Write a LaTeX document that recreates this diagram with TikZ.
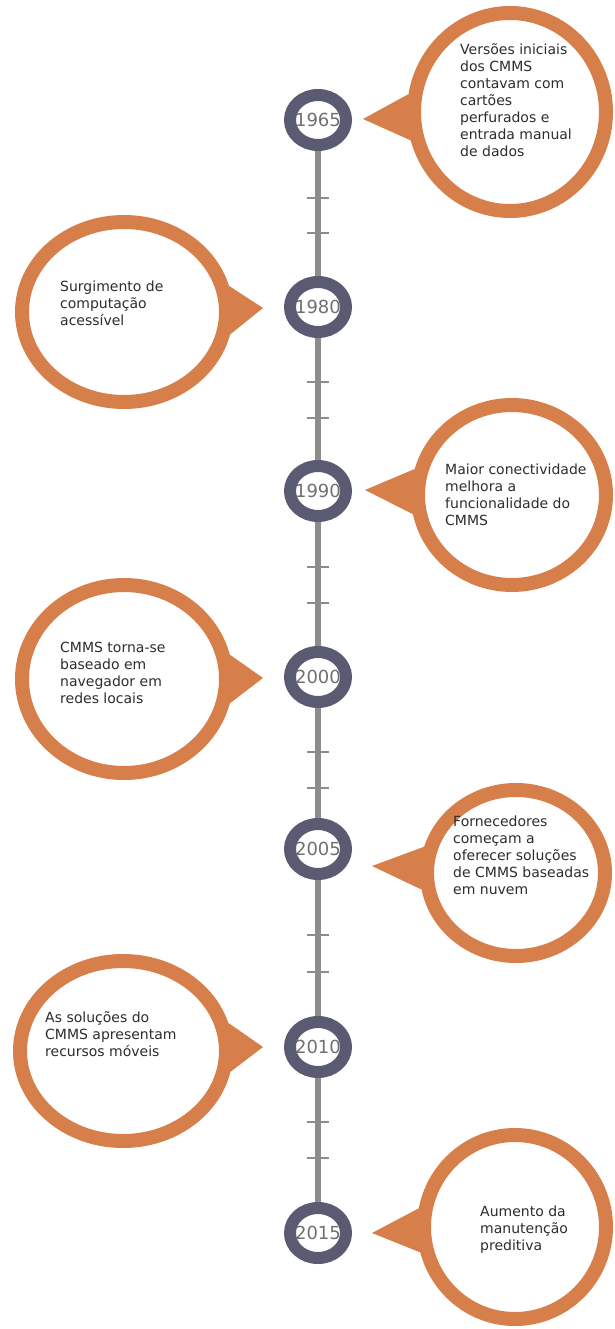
\documentclass[tikz,border=0pt]{standalone}
\usepackage{fontspec}
\setmainfont{DejaVu Sans}
\usetikzlibrary{shapes.geometric,calc}
\definecolor{bubbleorange}{RGB}{215,127,75}
\definecolor{ringslate}{RGB}{90,90,114}
\definecolor{linegray}{RGB}{140,140,140}
\definecolor{yeargray}{RGB}{112,112,112}
\definecolor{textdark}{RGB}{45,45,45}
\pgfdeclarelayer{background}
\pgfsetlayers{background,main}
\tikzset{
  yearring/.style={shape=ellipse, draw=ringslate, fill=white, line width=12pt,
    minimum width=56pt, minimum height=50pt, inner sep=0pt},
  yeartext/.style={text=yeargray, font=\fontsize{18}{18}\selectfont, inner sep=0pt},
  bubble/.style={shape=ellipse, draw=bubbleorange, fill=white, line width=14pt, inner sep=0pt},
  bubbletext/.style={text=textdark, font=\fontsize{14}{17}\selectfont, align=left,
    anchor=north west, inner sep=0pt},
  spine/.style={draw=linegray, line width=6pt},
  tickmark/.style={draw=linegray, line width=2.5pt},
  pointer/.style={fill=bubbleorange}
}
\begin{document}
\begin{tikzpicture}[x=1pt,y=-1pt]
\useasboundingbox (0,0) rectangle (614,1329);
% year rings
\node[yearring] (y1965) at (318,120) {};
\node[yearring] (y1980) at (318,307) {};
\node[yearring] (y1990) at (318,491) {};
\node[yearring] (y2000) at (318,677) {};
\node[yearring] (y2005) at (318,849) {};
\node[yearring] (y2010) at (318,1047) {};
\node[yearring] (y2015) at (318,1233) {};
\node[yeartext] (t1965) at (y1965) {1965};
\node[yeartext] (t1980) at (y1980) {1980};
\node[yeartext] (t1990) at (y1990) {1990};
\node[yeartext] (t2000) at (y2000) {2000};
\node[yeartext] (t2005) at (y2005) {2005};
\node[yeartext] (t2010) at (y2010) {2010};
\node[yeartext] (t2015) at (y2015) {2015};
% bubbles
\node[bubble, minimum width=192pt, minimum height=198pt] (b1) at (510,112) {};
\node[bubble, minimum width=204pt, minimum height=180pt] (b2) at (124,312) {};
\node[bubble, minimum width=188pt, minimum height=180pt] (b3) at (512,495) {};
\node[bubble, minimum width=204pt, minimum height=188pt] (b4) at (124,679) {};
\node[bubble, minimum width=178pt, minimum height=166pt] (b5) at (516,873) {};
\node[bubble, minimum width=206pt, minimum height=180pt] (b6) at (123,1051) {};
\node[bubble, minimum width=182pt, minimum height=184pt] (b7) at (515,1227) {};
% pointer tips
\coordinate (p1) at (363,119);
\coordinate (p2) at (263,308);
\coordinate (p3) at (365,490);
\coordinate (p4) at (263,678);
\coordinate (p5) at (372,866);
\coordinate (p6) at (263,1047);
\coordinate (p7) at (372,1233);
\begin{pgfonlayer}{background}
  \draw[spine] (y1965.center) -- (y1980.center);
  \draw[spine] (y1980.center) -- (y1990.center);
  \draw[spine] (y1990.center) -- (y2000.center);
  \draw[spine] (y2000.center) -- (y2005.center);
  \draw[spine] (y2005.center) -- (y2010.center);
  \draw[spine] (y2010.center) -- (y2015.center);
  \foreach \n/\a/\b in {y1965/78/113, y1980/75/111, y1990/76/112, y2000/75/111, y2005/86/123, y2010/75/111} {
    \draw[tickmark] ($(\n.center)+(-11,\a)$) -- ($(\n.center)+(11,\a)$);
    \draw[tickmark] ($(\n.center)+(-11,\b)$) -- ($(\n.center)+(11,\b)$);
  }
  \fill[pointer] (p1) -- (b1.170) -- (b1.196) -- cycle;
  \fill[pointer] (p2) -- (b2.14) -- (b2.348) -- cycle;
  \fill[pointer] (p3) -- (b3.165) -- (b3.191) -- cycle;
  \fill[pointer] (p4) -- (b4.13) -- (b4.347) -- cycle;
  \fill[pointer] (p5) -- (b5.164) -- (b5.190) -- cycle;
  \fill[pointer] (p6) -- (b6.15) -- (b6.349) -- cycle;
  \fill[pointer] (p7) -- (b7.169) -- (b7.195) -- cycle;
\end{pgfonlayer}
% texts
\node[bubbletext] (x1) at (460,43) {Versões iniciais\\dos CMMS\\contavam com\\cartões\\perfurados e\\entrada manual\\de dados};
\node[bubbletext] (x2) at (60,281) {Surgimento de\\computação\\acessível};
\node[bubbletext] (x3) at (445,464) {Maior conectividade\\melhora a\\funcionalidade do\\CMMS};
\node[bubbletext] (x4) at (60,642) {CMMS torna-se\\baseado em\\navegador em\\redes locais};
\node[bubbletext] (x5) at (453,816) {Fornecedores\\começam a\\oferecer soluções\\de CMMS baseadas\\em nuvem};
\node[bubbletext] (x6) at (45,1011) {As soluções do\\CMMS apresentam\\recursos móveis};
\node[bubbletext] (x7) at (480,1206) {Aumento da\\manutenção\\preditiva};
\end{tikzpicture}
\end{document}
